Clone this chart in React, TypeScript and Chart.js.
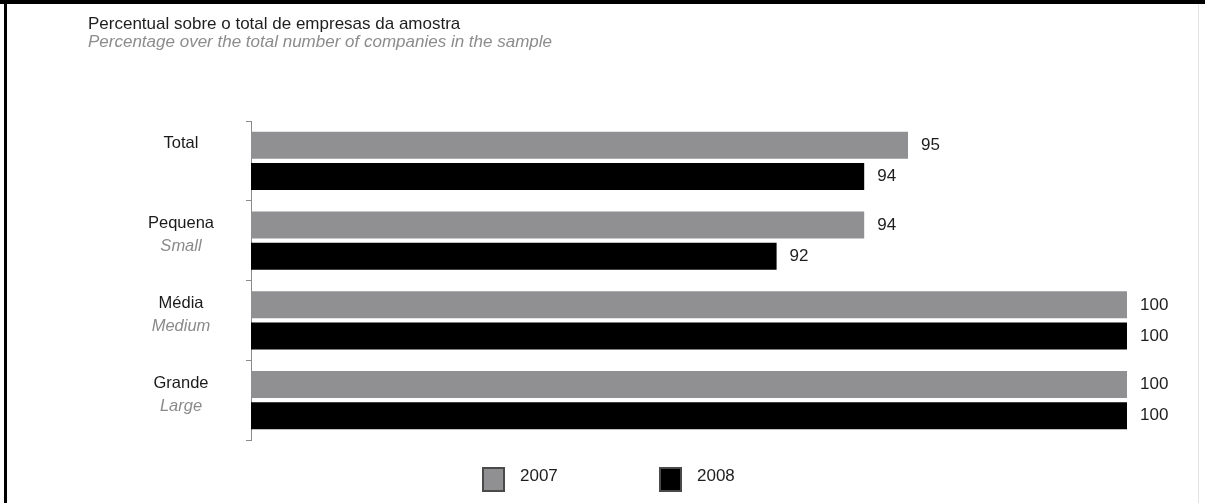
import React, { useEffect, useRef } from "react";
import { Chart, registerables } from "chart.js";

Chart.register(...registerables);

const categoriesPt = ["Total", "Pequena", "Média", "Grande"];
const categoriesEn = ["", "Small", "Medium", "Large"];
const seriesNames = ["2007", "2008"];
const series2007 = [95, 94, 100, 100];
const series2008 = [94, 92, 100, 100];
const titleText = "Percentual sobre o total de empresas da amostra";
const subtitleText = "Percentage over the total number of companies in the sample";
const axisMin = 80;
const axisMax = 100;

const FONT = '"Liberation Sans", Arial, Helvetica, sans-serif';
const GRAY = "#909092";
const BLACK = "#000000";

const extrasPlugin = {
  id: "extras",
  beforeDraw(chart: any) {
    const ctx = chart.ctx;
    ctx.save();
    ctx.fillStyle = "#ffffff";
    ctx.fillRect(0, 0, chart.width, chart.height);
    // frame
    ctx.fillStyle = "#000000";
    ctx.fillRect(0, 0, chart.width, 4);
    ctx.fillRect(4, 0, 3, chart.height);
    ctx.fillStyle = "#e4e4e4";
    ctx.fillRect(1198, 4, 1, chart.height - 4);
    ctx.restore();
  },
  afterDraw(chart: any) {
    const ctx = chart.ctx;
    const area = chart.chartArea;
    const yScale = chart.scales.y;
    ctx.save();
    // title & subtitle
    ctx.textAlign = "left";
    ctx.textBaseline = "alphabetic";
    ctx.fillStyle = "#1e1e1e";
    ctx.font = `17px ${FONT}`;
    ctx.fillText(titleText, 88, 29);
    ctx.fillStyle = "#8c8c8c";
    ctx.font = `italic 17px ${FONT}`;
    ctx.fillText(subtitleText, 88, 47);

    // category labels
    ctx.textAlign = "center";
    ctx.textBaseline = "middle";
    const cx = area.left - 70;
    categoriesPt.forEach((lab, i) => {
      const yc = yScale.getPixelForValue(i);
      ctx.fillStyle = "#1a1a1a";
      ctx.font = `16.5px ${FONT}`;
      ctx.fillText(lab, cx, yc - 17);
      const en = categoriesEn[i];
      if (en) {
        ctx.fillStyle = "#8a8a8a";
        ctx.font = `italic 16.5px ${FONT}`;
        ctx.fillText(en, cx, yc + 6);
      }
    });

    // legend
    const legendItems = [
      { name: seriesNames[0], color: GRAY, x: 482 },
      { name: seriesNames[1], color: BLACK, x: 659 },
    ];
    legendItems.forEach((it) => {
      ctx.fillStyle = it.color;
      ctx.fillRect(it.x, 467, 23, 25);
      ctx.strokeStyle = "#4a4a4a";
      ctx.lineWidth = 2;
      ctx.strokeRect(it.x + 1, 468, 21, 23);
      ctx.fillStyle = "#1e1e1e";
      ctx.font = `17px ${FONT}`;
      ctx.textAlign = "left";
      ctx.textBaseline = "middle";
      ctx.fillText(it.name, it.x + 38, 476);
    });
    ctx.restore();
  },
  afterDatasetsDraw(chart: any) {
    const ctx = chart.ctx;
    ctx.save();
    ctx.fillStyle = "#1e1e1e";
    ctx.font = `17px ${FONT}`;
    ctx.textAlign = "left";
    ctx.textBaseline = "middle";
    chart.data.datasets.forEach((ds: any, di: number) => {
      const meta = chart.getDatasetMeta(di);
      meta.data.forEach((bar: any, i: number) => {
        ctx.fillText(String(ds.data[i]), bar.x + 13, bar.y);
      });
    });
    ctx.restore();
  },
};

export default function App() {
  const canvasRef = useRef<HTMLCanvasElement | null>(null);

  useEffect(() => {
    if (!canvasRef.current) return;
    const chart = new Chart(canvasRef.current, {
      type: "bar",
      data: {
        labels: categoriesPt,
        datasets: [
          {
            label: seriesNames[0],
            data: series2007,
            backgroundColor: GRAY,
            categoryPercentage: 0.78,
            barPercentage: 0.87,
          },
          {
            label: seriesNames[1],
            data: series2008,
            backgroundColor: BLACK,
            categoryPercentage: 0.78,
            barPercentage: 0.87,
          },
        ],
      },
      options: {
        indexAxis: "y",
        responsive: false,
        animation: false,
        layout: { padding: { left: 246, right: 78, top: 121, bottom: 63 } },
        plugins: {
          legend: { display: false },
          tooltip: { enabled: false },
          title: { display: false },
        },
        scales: {
          x: { display: false, min: axisMin, max: axisMax },
          y: {
            display: true,
            ticks: { display: false },
            grid: {
              drawOnChartArea: false,
              drawTicks: true,
              tickLength: 5,
              color: "#8a8a8a",
              offset: true,
            },
            border: { display: true, color: "#8a8a8a", width: 1 },
          },
        },
      },
      plugins: [extrasPlugin],
    } as any);
    return () => chart.destroy();
  }, []);

  return (
    <div style={{ position: "fixed", left: 0, top: 0, width: 1205, height: 503, background: "#fff" }}>
      <canvas ref={canvasRef} width={1205} height={503} style={{ display: "block" }} />
    </div>
  );
}
